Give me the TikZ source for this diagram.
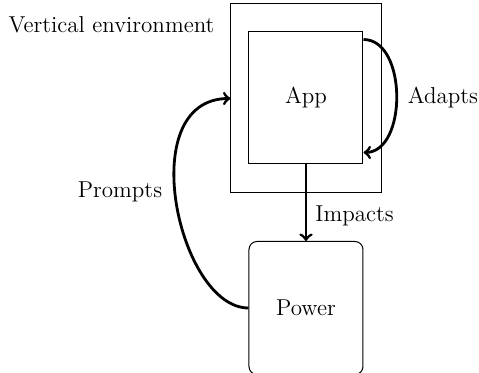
\documentclass[tikz,border=0pt]{standalone}
\usetikzlibrary{arrows}
\begin{document}
\begin{tikzpicture}[x=0.5pt,y=-0.5pt,
  box/.style={draw,line width=0.5pt,inner sep=0pt},
  flow/.style={->,line width=1.4pt},
  lbl/.style={inner sep=0pt,font=\fontsize{11.5}{13}\selectfont}]
\useasboundingbox (0,0) rectangle (479,373);
\node[box,minimum width=75.5pt,minimum height=94.5pt] (outer) at (306.5,98.5) {};
\node[box,minimum width=57pt,minimum height=66pt,lbl] (app) at (306,98) {App};
\node[box,rounded corners=4pt,minimum width=57pt,minimum height=66.5pt,lbl] (power) at (306,308) {Power};
\node[lbl] (venv) at (111.5,25) {Vertical environment};
\node[lbl] (adapts) at (443,98) {Adapts};
\node[lbl,anchor=west] (impacts) at (315,216) {Impacts};
\node[lbl] (prompts) at (120,192) {Prompts};
\coordinate (as) at ([yshift=-4pt]app.north east);
\coordinate (ae) at ([yshift=6pt]app.south east);
\draw[flow] (as) .. controls +(22pt,0) and +(22pt,0) .. (ae);
\draw[flow] (app.south) -- (power.north);
\draw[flow] (power.west) .. controls +(-35pt,0) and +(-49pt,0) .. (outer.west);
\end{tikzpicture}
\end{document}
